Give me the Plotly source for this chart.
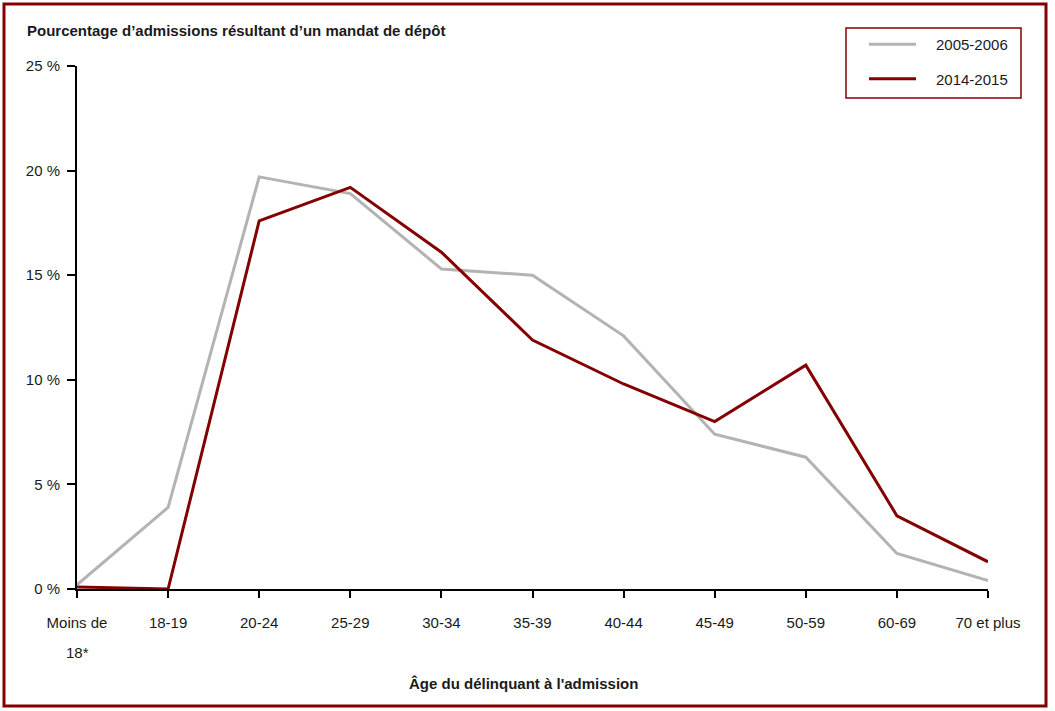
import plotly.graph_objects as go

# age groups at admission
age_groups = ["Moins de 18*", "18-19", "20-24", "25-29", "30-34", "35-39",
              "40-44", "45-49", "50-59", "60-69", "70 et plus"]
age_tick_text = ["Moins de", "18-19", "20-24", "25-29", "30-34", "35-39",
                 "40-44", "45-49", "50-59", "60-69", "70 et plus"]

# percentage of admissions resulting from a warrant of committal
pct_2005_2006 = [0.2, 3.9, 19.7, 18.9, 15.3, 15.0, 12.1, 7.4, 6.3, 1.7, 0.4]
pct_2014_2015 = [0.1, 0.0, 17.6, 19.2, 16.1, 11.9, 9.8, 8.0, 10.7, 3.5, 1.3]

y_ticks = [0, 5, 10, 15, 20, 25]
y_tick_labels = ["0 %", "5 %", "10 %", "15 %", "20 %", "25 %"]

FONT = "Liberation Sans Narrow, Arial Narrow, Liberation Sans, Arial, sans-serif"
GREY = "#B3B3B3"
RED = "#840000"

# plot area in pixels: x 77..988, y 66..589
W, H = 1055, 711
L, R, T, B = 77, 67, 66, 122
pw, ph = W - L - R, H - T - B


def px(x):
    return (x - L) / pw


def py(y):
    return (H - B - y) / ph


gap = "\u2002\u2002"  # push legend text away from the line sample

fig = go.Figure()
fig.add_trace(go.Scatter(x=age_groups, y=pct_2005_2006, mode="lines",
                         name=gap + "2005-2006", legendgroup="a",
                         line=dict(color=GREY, width=3)))
fig.add_trace(go.Scatter(x=age_groups, y=pct_2014_2015, mode="lines",
                         name=gap + "2014-2015", legendgroup="b",
                         line=dict(color=RED, width=3)))

fig.update_layout(
    width=W, height=H,
    margin=dict(l=L, r=R, t=T, b=B),
    paper_bgcolor="white", plot_bgcolor="white",
    font=dict(family=FONT, size=15, color="#1a1a1a"),
    showlegend=True,
    legend=dict(x=px(864), y=py(28), xanchor="left", yanchor="top",
                borderwidth=0, bgcolor="rgba(0,0,0,0)",
                font=dict(size=15), tracegroupgap=12,
                itemwidth=47, traceorder="grouped"),
    annotations=[
        dict(text="<b>Pourcentage d’admissions résultant d’un mandat de dépôt</b>",
             xref="paper", yref="paper", x=px(25), y=py(31),
             xanchor="left", yanchor="middle", showarrow=False,
             font=dict(size=15)),
        dict(text="18*", xref="x", yref="paper", x=age_groups[0], y=py(652),
             xanchor="center", yanchor="middle", showarrow=False,
             font=dict(size=15)),
        dict(text="<b>Âge du délinquant à l'admission</b>",
             xref="paper", yref="paper", x=px(523), y=py(683),
             xanchor="center", yanchor="middle", showarrow=False,
             font=dict(size=15)),
    ],
    shapes=[
        dict(type="rect", xref="paper", yref="paper",
             x0=px(4), x1=px(1046), y0=py(706), y1=py(4),
             line=dict(color=RED, width=3)),
        dict(type="rect", xref="paper", yref="paper",
             x0=px(846), x1=px(1021), y0=py(98), y1=py(28),
             line=dict(color=RED, width=1.5)),
    ],
)

fig.update_xaxes(
    type="category", range=[0, 10],
    tickvals=age_groups, ticktext=age_tick_text,
    showline=True, linecolor="black", linewidth=2,
    ticks="outside", ticklen=7, tickcolor="black", tickwidth=2,
    ticklabelstandoff=12,
    showgrid=False, zeroline=False,
    tickfont=dict(size=15),
)
fig.update_yaxes(
    range=[0, 25], tickvals=y_ticks, ticktext=y_tick_labels,
    showline=True, linecolor="black", linewidth=2,
    ticks="outside", ticklen=8, tickcolor="black", tickwidth=2,
    ticklabelstandoff=4,
    showgrid=False, zeroline=False,
    tickfont=dict(size=15),
)

fig.write_html("out.html", config={"displayModeBar": False},
               post_script="document.body.style.margin = '0';")
